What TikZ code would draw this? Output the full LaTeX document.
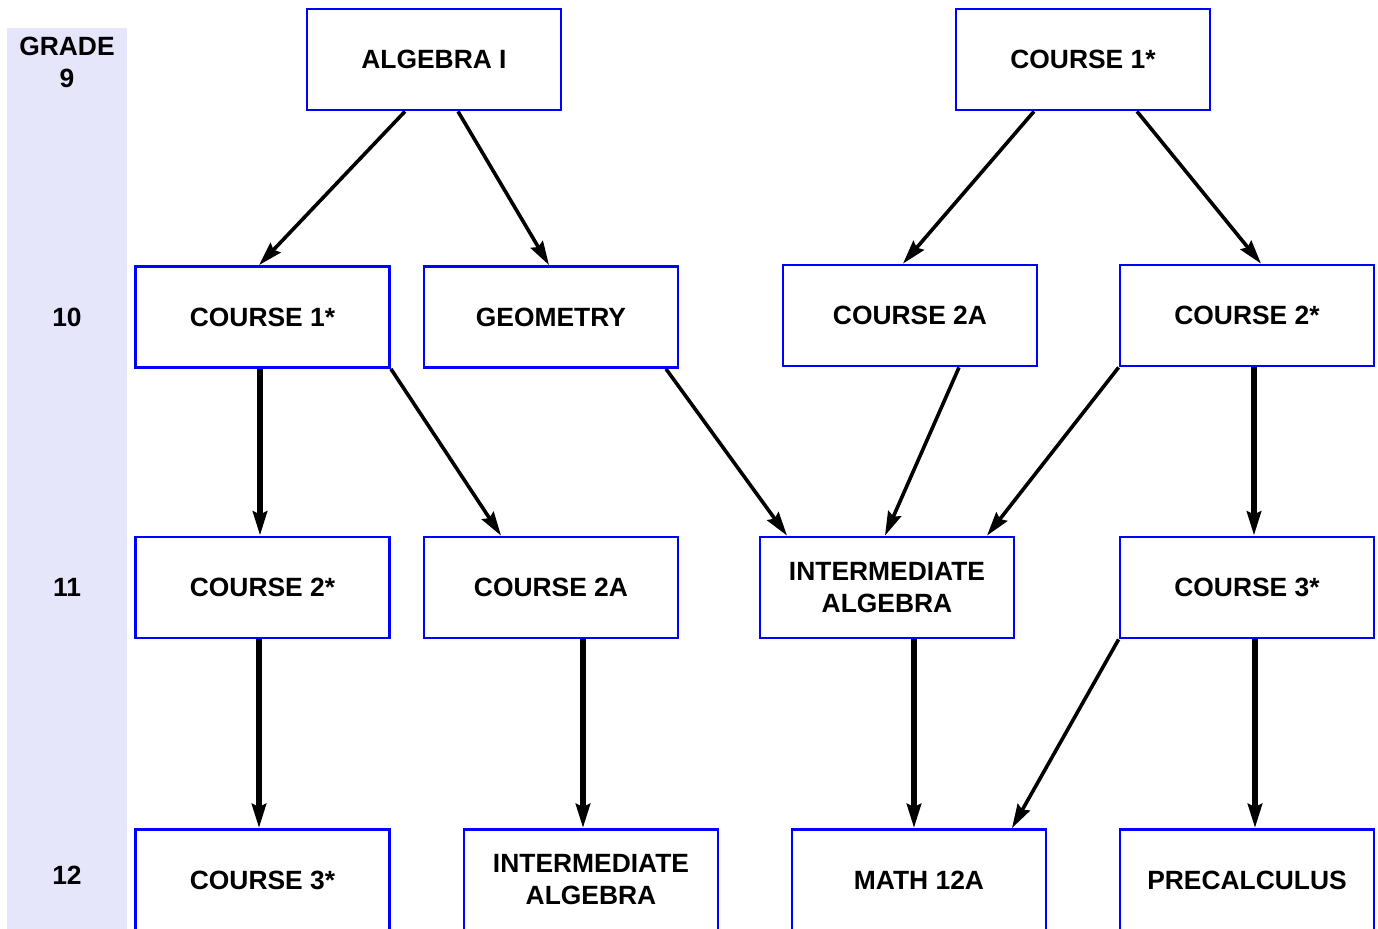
\documentclass[tikz,border=0pt]{standalone}
\usepackage{fontspec}
\setmainfont{Liberation Sans}
\usetikzlibrary{arrows.meta}
\definecolor{gradebg}{HTML}{E6E6FA}
\begin{document}
\begin{tikzpicture}[x=0.5pt,y=-0.5pt,
    box/.style={draw=blue, line width=1.4pt, minimum width=127pt,
      minimum height=50.5pt, align=center,
      font=\bfseries\fontsize{13.2}{16}\selectfont},
    grade/.style={align=center, font=\bfseries\fontsize{13.2}{16}\selectfont},
    thin/.style={line width=1.8pt, -{Stealth[length=12pt,width=7pt,inset=1.5pt]}},
    thick/.style={line width=2.7pt, -{Stealth[length=12pt,width=7pt,inset=1.5pt]}}]
      \useasboundingbox (0,0) rectangle (1378,928);
      \clip (0,0) rectangle (1378,928);
      \fill[gradebg] (7,28) rectangle (127,930);
      \draw
        (67,62) node[grade] (g9){GRADE\\9}
        (67,317) node[grade] (g10){10}
        (67,587) node[grade] (g11){11}
        (67,875) node[grade] (g12){12};
      \draw
        (434,59.5) node[box] (alg){ALGEBRA I}
        (1083,59.5) node[box] (ctop){COURSE 1*}
        (262.5,317) node[box] (c1){COURSE 1*}
        (551,317) node[box] (geo){GEOMETRY}
        (910,315.5) node[box] (c2a){COURSE 2A}
        (1247,315.5) node[box] (c2){COURSE 2*}
        (262.5,587.5) node[box] (c2b){COURSE 2*}
        (551,587.5) node[box] (c2ab){COURSE 2A}
        (887,587.5) node[box] (ia){INTERMEDIATE\\ALGEBRA}
        (1247,587.5) node[box] (c3){COURSE 3*}
        (262.5,880) node[box] (c3b){COURSE 3*}
        (591,880) node[box] (iab){INTERMEDIATE\\ALGEBRA}
        (919,880) node[box] (m12){MATH 12A}
        (1247,880) node[box] (pre){PRECALCULUS};
      \begin{scope}[thin]
        \draw ([xshift=-14.5pt]alg.south) to ([xshift=-1.75pt]c1.north);
        \draw ([xshift=12pt]alg.south) to ([xshift=-1pt]geo.north);
        \draw ([xshift=-24.5pt]ctop.south) to ([xshift=-3.5pt]c2a.north);
        \draw ([xshift=27pt]ctop.south) to ([xshift=7pt]c2.north);
        \draw (c1.south east) to ([xshift=-25pt]c2ab.north);
        \draw ([xshift=57.5pt]geo.south) to ([xshift=-50pt]ia.north);
        \draw ([xshift=24.5pt]c2a.south) to ([xshift=-1pt]ia.north);
        \draw (c2.south west) to ([xshift=50pt]ia.north);
        \draw (c3.south west) to ([xshift=46.5pt]m12.north);
      \end{scope}
      \begin{scope}[thick]
        \draw ([xshift=-1.25pt]c1.south) to ([xshift=-1.25pt]c2b.north);
        \draw ([xshift=3.5pt]c2.south) to ([xshift=3.5pt]c3.north);
        \draw ([xshift=-1.75pt]c2b.south) to ([xshift=-1.75pt]c3b.north);
        \draw ([xshift=16pt]c2ab.south) to ([xshift=-4pt]iab.north);
        \draw ([xshift=13.5pt]ia.south) to ([xshift=-2.5pt]m12.north);
        \draw ([xshift=4pt]c3.south) to ([xshift=4pt]pre.north);
      \end{scope}
    \end{tikzpicture}
\end{document}
